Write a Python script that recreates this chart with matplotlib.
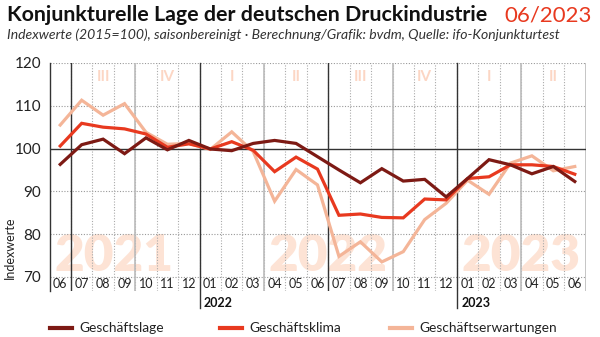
import numpy as np
import matplotlib.pyplot as plt
from matplotlib.lines import Line2D

plt.rcParams['font.family'] = ['Lato', 'DejaVu Sans']

# months 06/2021 .. 06/2023
months = ["06", "07", "08", "09", "10", "11", "12",
          "01", "02", "03", "04", "05", "06", "07", "08", "09", "10", "11", "12",
          "01", "02", "03", "04", "05", "06"]

lage = [96.3, 100.9, 102.2, 98.8, 102.5, 99.7, 101.9,
        99.9, 99.5, 101.2, 101.9, 101.2, 98.1, 95.0, 92.0, 95.3, 92.4, 92.8, 88.7,
        93.0, 97.4, 96.2, 94.1, 95.8, 92.3]
klima = [100.6, 105.9, 105.0, 104.6, 103.4, 100.3, 101.1,
         99.9, 101.6, 99.6, 94.6, 98.0, 95.2, 84.4, 84.7, 83.9, 83.8, 88.2, 88.0,
         93.0, 93.4, 96.2, 96.2, 95.8, 94.0]
erwartung = [105.5, 111.3, 107.8, 110.5, 103.8, 101.0, 101.2,
             99.8, 103.9, 99.3, 87.7, 95.1, 91.5, 74.8, 78.2, 73.5, 75.9, 83.4, 87.2,
             92.6, 89.3, 96.6, 98.3, 94.8, 95.8]

quarters = ["III", "IV", "I", "II", "III", "IV", "I", "II"]
quarter_pos = [2, 5, 8, 11, 14, 17, 20, 23]
bg_years = ["2021", "2022", "2023"]
bg_year_pos = [2.5, 12.5, 21.5]
year_labels = ["2022", "2023"]
year_pos = [6.5, 18.5]

c_lage = "#7d1a14"
c_klima = "#e8391f"
c_erw = "#f4b598"
c_bg = "#fde3d5"

W, H = 600, 337
fig = plt.figure(figsize=(6, 3.37), dpi=100)
ax = fig.add_axes([49.5 / W, 1 - 291 / H, 536 / W, 228 / H])

x = np.arange(len(months))
ymin = 66.7
ax.set_xlim(-0.5, len(months) - 0.5)
ax.set_ylim(ymin, 120)

# background decoration
for t, p in zip(bg_years, bg_year_pos):
    ax.text(p, 71.4, t, ha="center", va="baseline", fontsize=37, fontweight="heavy",
            color=c_bg, zorder=0)
for t, p in zip(quarters, quarter_pos):
    ax.text(p, 116.7, t, ha="center", va="center", fontsize=11, fontweight="bold",
            color="#fcd6c4", zorder=0)

# horizontal grid
for v in [70, 80, 90, 110, 120]:
    ax.axhline(v, color="#999999", lw=0.8, ls=(0, (1, 1.5)), zorder=1)
ax.axhline(100, color="#333333", lw=1.0, zorder=2)

# vertical grid
for b in np.arange(0.5, len(months) - 0.5, 1.0):
    ax.plot([b, b], [ymin, 120], color="#aaaaaa", lw=0.8, ls=(0, (1, 1.5)), zorder=1)
for b in [3.5, 9.5, 15.5, 21.5, 24.5]:
    ax.plot([b, b], [ymin, 120], color="#bbbbbb", lw=1.2, zorder=1)
for b in [0.5, 12.5]:
    ax.plot([b, b], [ymin, 120], color="#333333", lw=1.0, zorder=2)
for b in year_pos:
    ax.plot([b, b], [62.8, 120], color="#333333", lw=1.0, zorder=2, clip_on=False)

ax.plot(x, erwartung, color=c_erw, lw=2.3, zorder=3, solid_joinstyle="miter")
ax.plot(x, klima, color=c_klima, lw=2.3, zorder=4, solid_joinstyle="miter")
ax.plot(x, lage, color=c_lage, lw=2.3, zorder=5, solid_joinstyle="miter")

# month labels inside plot
for i, m in enumerate(months):
    ax.text(i, 68.3, m, ha="center", va="center", fontsize=9, color="#222222")
for t, p in zip(year_labels, year_pos):
    ax.text(p + 0.2, 64.0, t, ha="left", va="center", fontsize=9,
            fontweight="bold", color="#111111", clip_on=False)

ax.set_xticks([])
ax.set_yticks([70, 80, 90, 100, 110, 120])
ax.tick_params(axis="y", length=0, labelsize=11, pad=6, colors="#222222")
for s in ["top", "right", "bottom"]:
    ax.spines[s].set_visible(False)
ax.spines["left"].set_color("#333333")
ax.spines["left"].set_linewidth(1.0)

fig.text(10 / W, 1 - 248 / H, "Indexwerte", rotation=90, ha="center", va="center",
         fontsize=9, color="#222222")

# title
fig.text(7 / W, 1 - 15 / H, "Konjunkturelle Lage der deutschen Druckindustrie",
         ha="left", va="center", fontsize=15.4, fontweight="bold", color="#111111")
fig.text(592 / W, 1 - 15 / H, "06/2023", ha="right", va="center", fontsize=16,
         color="#e8391f")
fig.text(7 / W, 1 - 35 / H,
         "Indexwerte (2015=100), saisonbereinigt \u00b7 Berechnung/Grafik: bvdm, Quelle: ifo-Konjunkturtest",
         ha="left", va="center", fontsize=10.1, style="italic", color="#333333")

# legend
leg = [("Geschäftslage", c_lage, 50), ("Geschäftsklima", c_klima, 220),
       ("Geschäftserwartungen", c_erw, 390)]
for name, col, x0 in leg:
    fig.add_artist(Line2D([x0 / W, (x0 + 22) / W], [1 - 328 / H, 1 - 328 / H],
                          color=col, lw=3, transform=fig.transFigure))
    fig.text((x0 + 29) / W, 1 - 328 / H, name, ha="left", va="center",
             fontsize=9.9, color="#222222")

fig.savefig("out.png", dpi=100)
